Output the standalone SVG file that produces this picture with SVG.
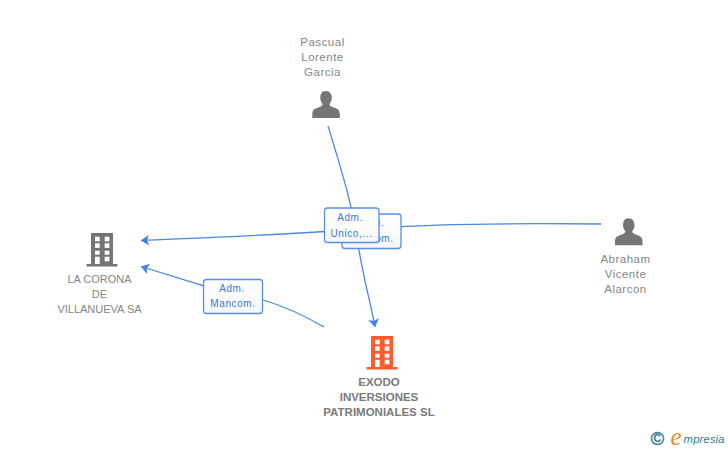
<svg xmlns="http://www.w3.org/2000/svg" width="728" height="450" viewBox="0 0 728 450">
<style>
text{font-family:"Liberation Sans",Arial,sans-serif;text-anchor:middle}
.n{font-size:11.5px;fill:#858585;letter-spacing:.5px}
.u{font-size:11px;fill:#858585}
.b{font-size:11.5px;fill:#7a7a7a;font-weight:bold}
.l{font-size:10px;fill:#3a78d8;letter-spacing:.6px}
.c{fill:none;stroke:#4a86e4;stroke-width:1.3}
.box{fill:url(#bg);stroke:#5590e8;stroke-width:1.3}
.g{fill:#757575}
.o{fill:#ff5c2e}
.w{fill:#fff}
</style>
<defs>
<linearGradient id="bg" x1="0" y1="0" x2="0" y2="1"><stop offset="0" stop-color="#fff"/><stop offset="1" stop-color="#f6f6f6"/></linearGradient>
<marker id="a" markerUnits="userSpaceOnUse" markerWidth="10" markerHeight="12" refX="8" refY="6" orient="auto"><path d="M0 .5L8 6L0 11.500L2 6Z" fill="#3f80e2"/></marker>
<g id="person"><path d="M0-14c4.300 0 6 3.500 6 7 0 2.500-1.200 4.500-2.300 6 .2 1.500 1 2.200 3 3 3.500 1.200 7 2 7.300 6.500V13H-13.500V8.500c.3-4.500 3.800-5.300 7.300-6.500 2-.8 2.800-1.500 3-3C-4.300-2.500-5.500-4.500-5.500-7c0-3.500 1.200-7 5.500-7Z"/></g>
<g id="bld"><path d="M-11 -18H11V13H15.500V15.500H-15.500V13H-11Z"/><g class="w"><rect x="-7" y="-14.300" width="4.700" height="4.600"/><rect x="2.700" y="-14.300" width="4.700" height="4.600"/><rect x="-7" y="-7.700" width="4.700" height="4.600"/><rect x="2.700" y="-7.700" width="4.700" height="4.600"/><rect x="-7" y="-.3" width="4.700" height="4"/><rect x="2.700" y="-.3" width="4.700" height="4"/><rect x="-7" y="5.700" width="4.700" height="7.300"/><rect x="2.700" y="5.700" width="4.700" height="4.600"/></g></g>
</defs>
<g id="connectors">
<path class="c" d="M328 126C340 165 354 210 359 250C364 280 371 305 375 327" marker-end="url(#a)"/>
<path class="c" d="M601 224C500 223 420 225 380 228C300 234 220 237 141 240.500" marker-end="url(#a)"/>
<path class="c" d="M324 327C300 313 280 305 263 300L203 285.500L141 266.500" marker-end="url(#a)"/>
</g>
<g id="label-back"><rect class="box" x="342" y="214" width="59" height="34.500" rx="3"/><text class="l" x="371.500" y="226">Adm.</text><text class="l" x="371" y="242">Mancom.</text></g>
<g id="label-unico"><rect class="box" x="324.500" y="208" width="54.500" height="34.500" rx="3"/><text class="l" x="350" y="221">Adm.</text><text class="l" x="351.500" y="237">Unico,...</text></g>
<g id="label-mancom"><rect class="box" x="203.500" y="279.500" width="59" height="34" rx="3"/><text class="l" x="232" y="292">Adm.</text><text class="l" x="233" y="307">Mancom.</text></g>
<g id="node-pascual"><use href="#person" x="325.800" y="105" class="g"/><text class="n" x="322.500" y="46">Pascual</text><text class="n" x="322.500" y="61">Lorente</text><text class="n" x="322.500" y="76">Garcia</text></g>
<g id="node-abraham"><use href="#person" x="628.500" y="232.300" class="g"/><text class="n" x="625.500" y="263">Abraham</text><text class="n" x="625.500" y="278">Vicente</text><text class="n" x="625.500" y="293">Alarcon</text></g>
<g id="node-corona"><use href="#bld" x="102" y="251" class="g"/><text class="u" x="99.500" y="283">LA CORONA</text><text class="u" x="99.500" y="298">DE</text><text class="u" x="99.500" y="313">VILLANUEVA SA</text></g>
<g id="node-exodo"><use href="#bld" x="382" y="354" class="o"/><text class="b" x="379" y="386">EXODO</text><text class="b" x="379" y="401">INVERSIONES</text><text class="b" x="379" y="416">PATRIMONIALES SL</text></g>
<g id="logo"><text x="657.500" y="444.500" font-size="18" fill="#3d7f92" stroke="#3d7f92" stroke-width=".5">©</text><text x="676" y="445" font-size="25" fill="#f08a1e" style="font-family:'Liberation Serif',serif;font-style:italic">e</text><text x="704" y="443" font-size="11.500" fill="#2f7f8f" style="font-style:italic">mpresia</text></g>
</svg>
